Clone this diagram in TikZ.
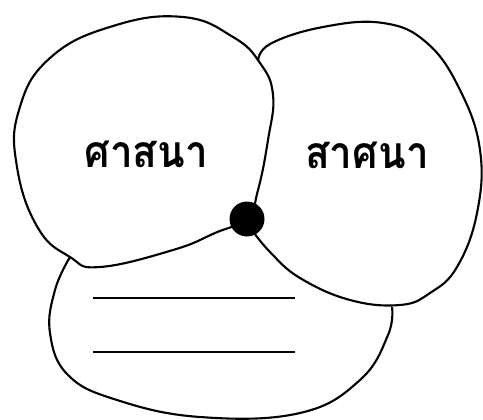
\documentclass[tikz,border=0pt]{standalone}
\usepackage{fontspec}
\newfontfamily\thaifont[Script=Thai]{Loma}
\begin{document}
\begin{tikzpicture}[x=0.02cm, y=-0.02cm, line width=1.2pt, line join=round,
    mot/.style={font=\thaifont\bfseries\fontsize{23}{23}\selectfont, inner sep=0pt, yscale=1.1}]
        \useasboundingbox (0, 0) rectangle (483, 419);

        % Cercle de droite (caché en partie)
        \draw plot [smooth, tension=0.7] coordinates {(258, 62) (270, 44) (323, 27) (383, 23) (427, 43) (460, 90) (480, 150) (477, 213) (457, 267) (430, 293) (400, 305) (350, 300) (300, 278) (270, 252) (252, 230)};

        % Forme du bas
        \draw plot [smooth, tension=0.7] coordinates {(70, 257) (55, 290) (50, 333) (68, 375) (117, 400) (200, 417) (300, 413) (360, 380) (388, 335) (392, 307)};

        % Cercle de gauche
        \draw [fill=white] plot [smooth cycle, tension=0.75] coordinates {(260, 63) (273, 95) (268, 140) (258, 190) (247, 218) (215, 233) (173, 250) (100, 267) (70, 257) (38, 228) (17, 167) (19, 110) (50, 58) (113, 26) (183, 17) (233, 37)};

        % Lignes
        \draw (93, 298) -- (295, 298);
        \draw (93, 352) -- (295, 352);

        % Point
        \node [circle, fill=black, minimum size=0.7cm, inner sep=0pt] (point) at (247, 219) {};

        % Textes
        \node [mot] (sasana) at (146, 154) {ศาสนา};
        \node [mot] (satsana) at (367, 155) {สาศนา};
\end{tikzpicture}
\end{document}
